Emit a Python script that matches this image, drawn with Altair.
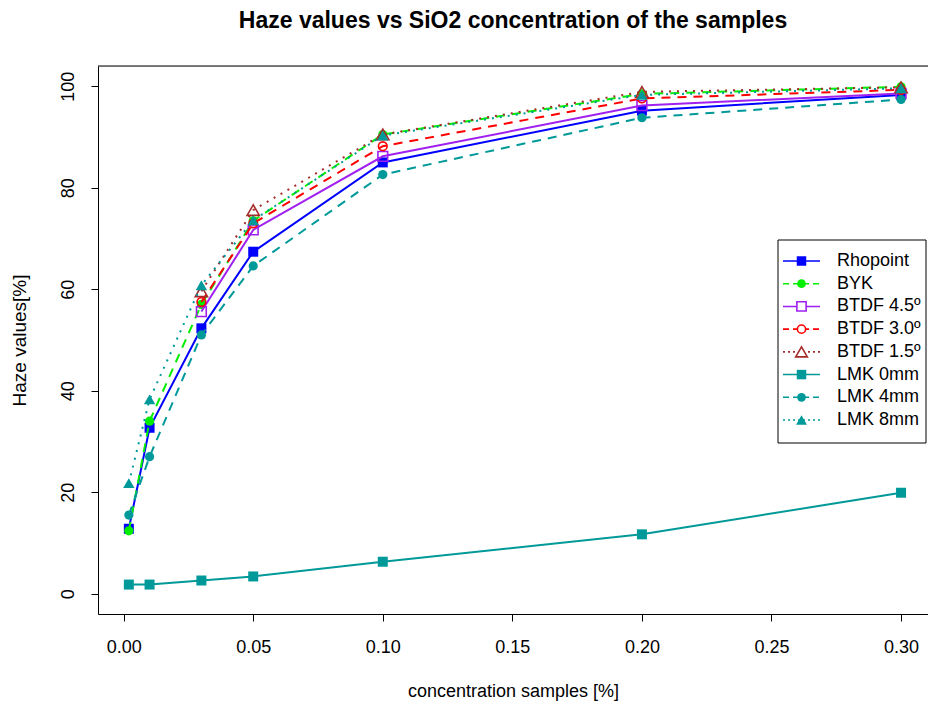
import altair as alt
import pandas as pd

# SiO2 concentration of each sample [%]
concentration = [0.002, 0.01, 0.03, 0.05, 0.10, 0.20, 0.30]

series_names = ["Rhopoint", "BYK", "BTDF 4.5º", "BTDF 3.0º", "BTDF 1.5º",
                "LMK 0mm", "LMK 4mm", "LMK 8mm"]

# Haze values [%] per instrument (None = not measured)
rhopoint = [12.8, 32.7, 52.3, 67.4, 85.0, 95.2, 98.3]
byk = [12.4, 34.0, 57.0, 73.5, 90.5, 98.5, 99.9]
btdf_45 = [None, None, 55.6, 71.7, 86.2, 96.2, 98.6]
btdf_30 = [None, None, 57.5, 73.0, 88.2, 97.6, 99.3]
btdf_15 = [None, None, 59.6, 75.6, 90.5, 98.9, 99.8]
lmk_0 = [1.8, 1.8, 2.6, 3.4, 6.3, 11.7, 19.9]
lmk_4 = [15.5, 27.0, 51.0, 64.6, 82.6, 93.8, 97.4]
lmk_8 = [21.8, 38.3, 60.8, 73.6, 90.3, 98.3, 99.6]

series_values = [rhopoint, byk, btdf_45, btdf_30, btdf_15, lmk_0, lmk_4, lmk_8]

x_ticks = [0.00, 0.05, 0.10, 0.15, 0.20, 0.25, 0.30]
y_ticks = [0, 20, 40, 60, 80, 100]

rows = []
for name, vals in zip(series_names, series_values):
    for c, v in zip(concentration, vals):
        if v is not None:
            rows.append({"series": name, "conc": c, "haze": v})
df = pd.DataFrame(rows)

TEAL = "#009999"
DASH = [9, 7]
DOT = [2, 6]
# name -> (colour, dash, shape, filled, size)
styles = {
    "Rhopoint": ("#0000FF", None, "square", True, 100),
    "BYK": ("#00EE00", DASH, "circle", True, 85),
    "BTDF 4.5º": ("#A020F0", None, "square", False, 95),
    "BTDF 3.0º": ("#FF0000", DASH, "circle", False, 75),
    "BTDF 1.5º": ("#A52A2A", DOT, "triangle-up", False, 150),
    "LMK 0mm": (TEAL, None, "square", True, 100),
    "LMK 4mm": (TEAL, DASH, "circle", True, 85),
    "LMK 8mm": (TEAL, DOT, "triangle-up", True, 130),
}

FONT = "Liberation Sans"
W, H = 830, 548

x_enc = alt.X(
    "conc:Q",
    scale=alt.Scale(domain=[-0.0099, 0.3104], nice=False, zero=False),
    axis=alt.Axis(values=x_ticks, format=".2f", title="concentration samples [%]",
                  grid=False, domain=True, domainColor="black", tickColor="black",
                  tickSize=7, labelPadding=17, labelFontSize=18, labelColor="black",
                  labelFont=FONT, titleFont=FONT, titleFontSize=18,
                  titleFontWeight="normal", titleColor="black", titlePadding=26,
                  labelFlush=False),
)
y_enc = alt.Y(
    "haze:Q",
    scale=alt.Scale(domain=[-4, 104], nice=False, zero=False),
    axis=alt.Axis(values=y_ticks, title="Haze values[%]", grid=False, domain=True,
                  domainColor="black", tickColor="black", tickSize=7,
                  labelAngle=-90, labelAlign="center", labelBaseline="bottom",
                  labelPadding=14, labelFontSize=18, labelColor="black",
                  labelFont=FONT, titleFont=FONT, titleFontSize=19,
                  titleFontWeight="normal", titleColor="black", titlePadding=30,
                  labelFlush=False),
)

data_layers = []
for name in series_names:
    color, dash, shape, filled, size = styles[name]
    base = alt.Chart(df).transform_filter(alt.datum.series == name)
    line_kw = dict(color=color, strokeWidth=2)
    if dash:
        line_kw["strokeDash"] = dash
    data_layers.append(base.mark_line(**line_kw).encode(x=x_enc, y=y_enc))
    data_layers.append(
        base.mark_point(shape=shape, filled=filled, color=color, size=size,
                        strokeWidth=1.6, opacity=1).encode(x=x_enc, y=y_enc)
    )

# top edge of the plot frame
frame_top = alt.Chart(pd.DataFrame({"k": [0]})).mark_rule(color="black", strokeWidth=1).encode(
    x=alt.value(0), x2=alt.value(W), y=alt.value(0)
)
data_layers.append(frame_top)

# legend
leg_df = pd.DataFrame({"series": series_names})
row_y = alt.Y("series:N", scale=alt.Scale(type="point", domain=series_names,
                                          range=[195, 354], padding=0), axis=None)
leg_box = alt.Chart(pd.DataFrame({"k": [0]})).mark_rect(
    fill="white", stroke="black", strokeWidth=1
).encode(x=alt.value(680), x2=alt.value(828), y=alt.value(174), y2=alt.value(377))

legend_layers = [leg_box]
for name in series_names:
    color, dash, shape, filled, size = styles[name]
    lb = alt.Chart(leg_df).transform_filter(alt.datum.series == name)
    rule_kw = dict(color=color, strokeWidth=1.6)
    if dash:
        rule_kw["strokeDash"] = [6, 4] if dash == DASH else [2, 3]
    legend_layers.append(lb.mark_rule(**rule_kw).encode(
        x=alt.value(685), x2=alt.value(722), y=row_y))
    pt_kw = dict(shape=shape, color=color, size=size * 0.9, strokeWidth=1.6, opacity=1)
    if filled:
        pt_kw["filled"] = True
    else:
        pt_kw["filled"] = False
        pt_kw["fill"] = "white"
    legend_layers.append(lb.mark_point(**pt_kw).encode(x=alt.value(703.5), y=row_y))
legend_layers.append(
    alt.Chart(leg_df).mark_text(align="left", baseline="middle", fontSize=18,
                                font=FONT, color="black").encode(
        x=alt.value(739), y=row_y, text="series:N")
)

chart = alt.layer(
    alt.layer(*data_layers),
    alt.layer(*legend_layers),
).resolve_scale(y="independent", x="independent").properties(
    width=W,
    height=H,
    title=alt.TitleParams("Haze values vs SiO2 concentration of the samples",
                          fontSize=23, fontWeight="bold", font=FONT, color="black",
                          anchor="middle", offset=33),
    padding={"left": 98, "top": 66, "right": 0, "bottom": 95},
    autosize=alt.AutoSizeParams(type="none"),
).configure_view(stroke=None).configure(background="white")

chart.save("out.html", embed_options={"renderer": "svg", "actions": False})
